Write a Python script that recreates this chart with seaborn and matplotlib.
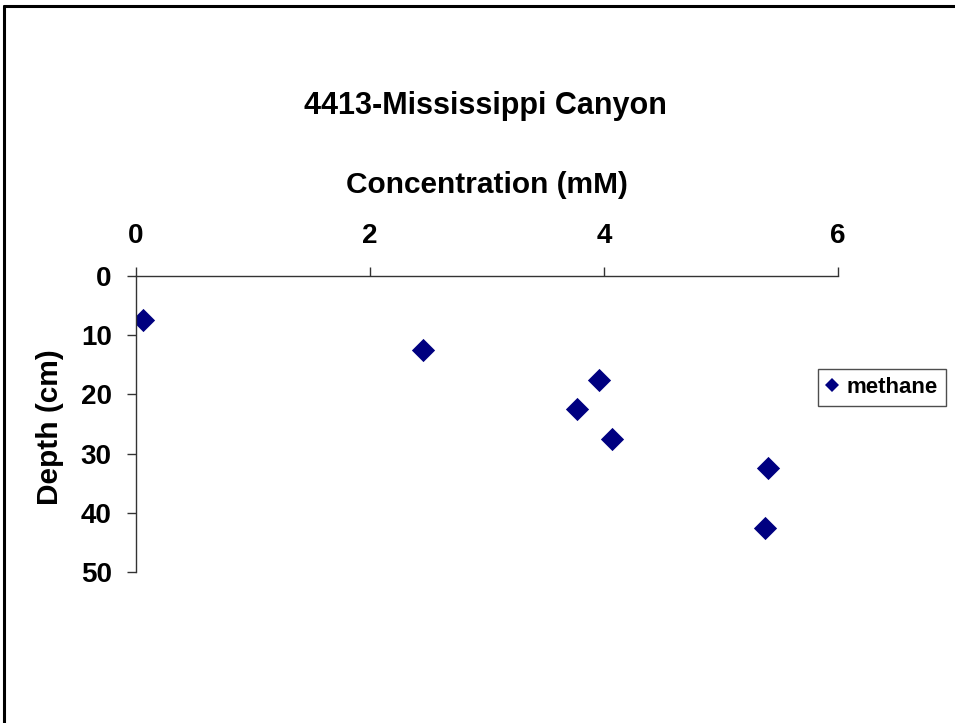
import matplotlib
matplotlib.use("Agg")
import matplotlib.pyplot as plt
from matplotlib.lines import Line2D
import pandas as pd
import seaborn as sns

# Methane concentration profile, core 4413 (Mississippi Canyon)
concentration_mM = [0.06, 2.45, 3.96, 3.77, 4.07, 5.40, 5.38]
depth_cm = [7.5, 12.5, 17.5, 22.5, 27.5, 32.5, 42.5]
series_name = "methane"

x_ticks = [0, 2, 4, 6]
y_ticks = [0, 10, 20, 30, 40, 50]

df = pd.DataFrame({"Concentration": concentration_mM, "Depth": depth_cm})

sns.set_theme(style="white")
plt.rcParams["font.family"] = ["Liberation Sans", "DejaVu Sans"]
plt.rcParams["font.weight"] = "bold"
plt.rcParams["text.color"] = "black"
plt.rcParams["axes.labelcolor"] = "black"
plt.rcParams["xtick.color"] = "black"
plt.rcParams["ytick.color"] = "black"

fig = plt.figure(figsize=(9.55, 7.23), dpi=100)
fig.patch.set_facecolor("white")
ax = fig.add_axes([0.1424, 0.2089, 0.7351, 0.4094])

sns.scatterplot(data=df, x="Concentration", y="Depth", marker="D", s=140,
                color="#000080", linewidth=0, ax=ax, legend=False)

ax.set_xlim(0, 6)
ax.set_ylim(50, 0)
ax.set_xticks(x_ticks)
ax.set_yticks(y_ticks)
ax.xaxis.tick_top()
ax.xaxis.set_label_position("top")

for side in ("right", "bottom"):
    ax.spines[side].set_visible(False)
for side in ("top", "left"):
    ax.spines[side].set_color("#333333")
    ax.spines[side].set_linewidth(1.0)

ax.tick_params(axis="x", direction="out", length=6.5, width=1, color="#333333",
               labelcolor="black", pad=13, labelsize=20)
ax.tick_params(axis="y", direction="out", length=6.5, width=1, color="#333333",
               labelcolor="black", pad=11, labelsize=20, left=True)
for lab in ax.get_xticklabels() + ax.get_yticklabels():
    lab.set_fontweight("bold")

ax.set_xlabel("Concentration (mM)", fontsize=21.5, fontweight="bold", color="black")
ax.xaxis.set_label_coords(0.5, 1.307)
ax.xaxis.label.set_va("center")
ax.set_ylabel("Depth (cm)", fontsize=21.5, fontweight="bold", color="black")
ax.yaxis.set_label_coords(-0.1225, 0.49)
ax.yaxis.label.set_va("center")

fig.text(0.5085, 0.853, "4413-Mississippi Canyon", ha="center", va="center",
         fontsize=22, fontweight="bold", color="black")

handle = Line2D([], [], marker="D", color="#000080", linestyle="none",
                markersize=7, markeredgewidth=0)
leg = fig.legend([handle], [series_name], loc="upper left",
                 bbox_to_anchor=(0.8565, 0.4896), frameon=True, fancybox=False,
                 borderaxespad=0, borderpad=0.35, handlelength=0.6,
                 handletextpad=0.35, prop={"size": 16, "weight": "bold"})
for t in leg.get_texts():
    t.set_color("black")
leg.get_frame().set_edgecolor("#222222")
leg.get_frame().set_linewidth(1.0)

# Outer chart border (left and top edges)
fig.add_artist(Line2D([0.0045, 0.0045], [0.0, 0.9917], transform=fig.transFigure,
                      color="black", linewidth=2.2))
fig.add_artist(Line2D([0.0045, 1.0], [0.9917, 0.9917], transform=fig.transFigure,
                      color="black", linewidth=2.2))

fig.savefig("out.png", dpi=100, facecolor="white")
